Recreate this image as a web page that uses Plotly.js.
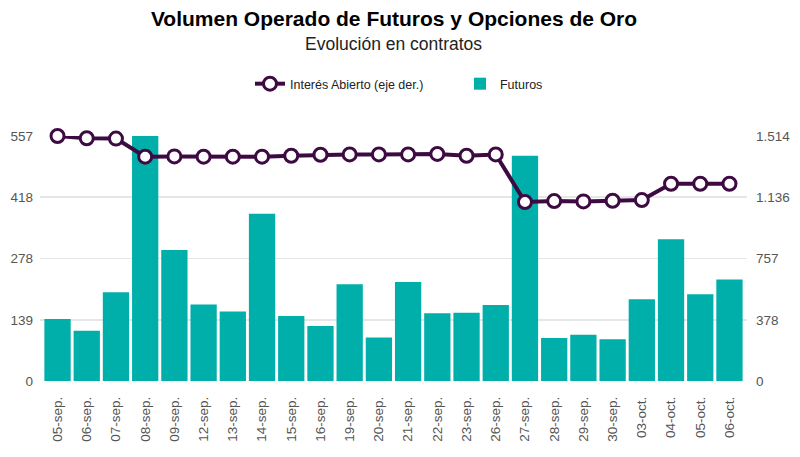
<!DOCTYPE html>
<html>
<head>
<meta charset="utf-8">
<script src="https://cdn.plot.ly/plotly-3.0.1.min.js"></script>
<style>
  html, body { margin: 0; padding: 0; background: #fff; }
  #chart { width: 800px; height: 457px; }
</style>
</head>
<body>
<div id="chart"></div>
<script>
// fechas de operación
const fechas = ['05-sep.', '06-sep.', '07-sep.', '08-sep.', '09-sep.', '12-sep.', '13-sep.', '14-sep.',
  '15-sep.', '16-sep.', '19-sep.', '20-sep.', '21-sep.', '22-sep.', '23-sep.', '26-sep.',
  '27-sep.', '28-sep.', '29-sep.', '30-sep.', '03-oct.', '04-oct.', '05-oct.', '06-oct.'];

// volumen de futuros (eje izq.)
const futuros = [141, 114, 202, 557, 298, 174, 158, 380, 148, 125, 220, 99,
  225, 154, 155, 173, 512, 98, 105, 95, 186, 322, 197, 231];

// interés abierto (eje der.)
const interesAbierto = [1514, 1500, 1498, 1386, 1388, 1386, 1386, 1386, 1392, 1398, 1400, 1400,
  1400, 1403, 1392, 1400, 1106, 1112, 1110, 1114, 1118, 1219, 1219, 1219];

const ticksIzq = [0, 139, 278, 418, 557];
const ticksDer = [0, 378, 757, 1136, 1514];
const ticksDerTxt = ['0', '378', '757', '1.136', '1.514'];

const fuente = 'Liberation Sans, Arial, sans-serif';

let lineaInteres = {
  x: fechas,
  y: interesAbierto,
  name: 'Interés Abierto (eje der.)',
  type: 'scatter',
  mode: 'lines+markers',
  yaxis: 'y2',
  cliponaxis: false,
  line: { color: '#3d0a42', width: 4 },
  marker: { size: 13, color: '#ffffff', line: { color: '#3d0a42', width: 3 } },
  hoverinfo: 'x+y'
};

let barrasFuturos = {
  x: fechas,
  y: futuros,
  name: 'Futuros',
  type: 'bar',
  marker: { color: '#00afaa' },
  hoverinfo: 'x+y'
};

let layout = {
  width: 800,
  height: 457,
  margin: { l: 40, r: 53, t: 136, b: 76 },
  paper_bgcolor: '#ffffff',
  plot_bgcolor: '#ffffff',
  font: { family: fuente, color: '#555555', size: 13 },
  title: {
    text: '<b>Volumen Operado de Futuros y Opciones de Oro</b>',
    font: { family: fuente, size: 21, color: '#000000' },
    x: 0.4925, xanchor: 'center',
    y: 0.96, yanchor: 'middle'
  },
  annotations: [{
    text: 'Evolución en contratos',
    xref: 'paper', yref: 'paper',
    x: 0.5, y: 1.375, xanchor: 'center', yanchor: 'middle',
    showarrow: false,
    font: { family: fuente, size: 17.5, color: '#222222' }
  }],
  showlegend: true,
  legend: {
    orientation: 'h',
    x: 0.297, xanchor: 'left',
    y: 1.212, yanchor: 'middle',
    entrywidth: 165,
    font: { family: fuente, size: 12.5, color: '#222222' }
  },
  bargap: 0.1,
  xaxis: {
    type: 'category',
    range: [-0.6, 23.6],
    tickangle: -90,
    tickfont: { size: 13.5, color: '#555555' },
    showgrid: false,
    zeroline: false,
    showline: false,
    ticks: '',
    ticklabelstandoff: 12
  },
  yaxis: {
    range: [0, 557],
    tickvals: ticksIzq,
    ticktext: ticksIzq.map(String),
    gridcolor: '#e6e6e6',
    gridwidth: 1.5,
    zeroline: false,
    tickfont: { size: 13.5, color: '#555555' },
    ticks: '',
    ticklabelstandoff: 6
  },
  yaxis2: {
    overlaying: 'y',
    side: 'right',
    range: [0, 1514],
    tickvals: ticksDer,
    ticktext: ticksDerTxt,
    showgrid: false,
    zeroline: false,
    tickfont: { size: 13.5, color: '#555555' },
    ticks: '',
    ticklabelstandoff: 8
  }
};

Plotly.newPlot('chart', [lineaInteres, barrasFuturos], layout, { staticPlot: true, displayModeBar: false });
</script>
</body>
</html>
